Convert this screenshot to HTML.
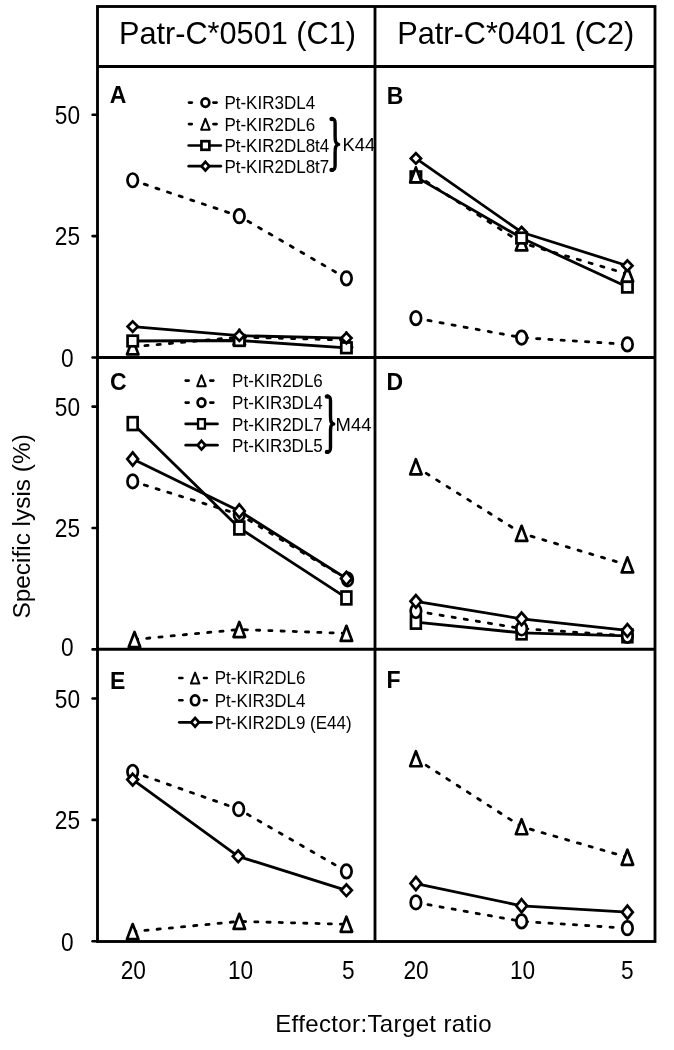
<!DOCTYPE html><html><head><meta charset="utf-8"><style>html,body{margin:0;padding:0;background:#fff;width:674px;height:1050px;overflow:hidden}</style></head><body><svg width="674" height="1050" viewBox="0 0 674 1050" style="display:block;will-change:transform">
<rect width="674" height="1050" fill="#fff"/>
<text x="237.5" y="44.3" font-family='"Liberation Sans", sans-serif' font-size="30.7" text-anchor="middle">Patr-C*0501 (C1)</text>
<text x="515.8" y="44.3" font-family='"Liberation Sans", sans-serif' font-size="30.7" text-anchor="middle">Patr-C*0401 (C2)</text>
<text transform="translate(109.7 103.1) scale(1 1.04)" font-family='"Liberation Sans", sans-serif' font-size="23" font-weight="bold">A</text>
<text transform="translate(386.7 103.5) scale(1 1.04)" font-family='"Liberation Sans", sans-serif' font-size="23" font-weight="bold">B</text>
<text transform="translate(110.0 389.6) scale(1 1.04)" font-family='"Liberation Sans", sans-serif' font-size="23" font-weight="bold">C</text>
<text transform="translate(386.5 390.4) scale(1 1.04)" font-family='"Liberation Sans", sans-serif' font-size="23" font-weight="bold">D</text>
<text transform="translate(109.9 688.8) scale(1 1.04)" font-family='"Liberation Sans", sans-serif' font-size="23" font-weight="bold">E</text>
<text transform="translate(386.5 688.2) scale(1 1.04)" font-family='"Liberation Sans", sans-serif' font-size="23" font-weight="bold">F</text>
<line x1="189.0" y1="102.6" x2="191.8" y2="102.6" stroke="#000" stroke-width="2.6" stroke-linecap="round"/>
<line x1="213.4" y1="102.6" x2="216.6" y2="102.6" stroke="#000" stroke-width="2.6" stroke-linecap="round"/>
<ellipse cx="205.40" cy="102.60" rx="3.90" ry="4.20" fill="#fff" stroke="#000" stroke-width="2.7"/>
<text transform="translate(224.4 109.3) scale(1 1.115)" font-family='"Liberation Sans", sans-serif' font-size="17">Pt-KIR3DL4</text>
<line x1="189.0" y1="124.1" x2="191.8" y2="124.1" stroke="#000" stroke-width="2.6" stroke-linecap="round"/>
<line x1="213.4" y1="124.1" x2="216.6" y2="124.1" stroke="#000" stroke-width="2.6" stroke-linecap="round"/>
<path d="M205.40 118.70L209.65 129.70L201.15 129.70Z" fill="#fff" stroke="#000" stroke-width="2.0" stroke-linejoin="round"/>
<text transform="translate(224.4 130.6) scale(1 1.115)" font-family='"Liberation Sans", sans-serif' font-size="17">Pt-KIR2DL6</text>
<line x1="188.7" y1="145.5" x2="220.8" y2="145.5" stroke="#000" stroke-width="2.7" stroke-linecap="round"/>
<rect x="201.45" y="141.20" width="7.90" height="8.60" fill="#fff" stroke="#000" stroke-width="2.7"/>
<text transform="translate(224.4 151.9) scale(1 1.115)" font-family='"Liberation Sans", sans-serif' font-size="17">Pt-KIR2DL8t4</text>
<line x1="188.7" y1="166.2" x2="220.8" y2="166.2" stroke="#000" stroke-width="2.7" stroke-linecap="round"/>
<path d="M205.40 161.85L209.30 166.20L205.40 170.55L201.50 166.20Z" fill="#fff" stroke="#000" stroke-width="2.7" stroke-linejoin="miter"/>
<text transform="translate(224.4 172.8) scale(1 1.115)" font-family='"Liberation Sans", sans-serif' font-size="17">Pt-KIR2DL8t7</text>
<line x1="185.7" y1="380.6" x2="188.7" y2="380.6" stroke="#000" stroke-width="2.6" stroke-linecap="round"/>
<line x1="210.3" y1="380.6" x2="213.3" y2="380.6" stroke="#000" stroke-width="2.6" stroke-linecap="round"/>
<path d="M201.50 375.20L205.75 386.20L197.25 386.20Z" fill="#fff" stroke="#000" stroke-width="2.0" stroke-linejoin="round"/>
<text transform="translate(232.1 387.1) scale(1 1.115)" font-family='"Liberation Sans", sans-serif' font-size="17">Pt-KIR2DL6</text>
<line x1="185.7" y1="402.6" x2="188.7" y2="402.6" stroke="#000" stroke-width="2.6" stroke-linecap="round"/>
<line x1="210.3" y1="402.6" x2="213.3" y2="402.6" stroke="#000" stroke-width="2.6" stroke-linecap="round"/>
<ellipse cx="201.50" cy="402.60" rx="3.90" ry="4.20" fill="#fff" stroke="#000" stroke-width="2.7"/>
<text transform="translate(232.1 409.1) scale(1 1.115)" font-family='"Liberation Sans", sans-serif' font-size="17">Pt-KIR3DL4</text>
<line x1="185.7" y1="423.9" x2="217.5" y2="423.9" stroke="#000" stroke-width="2.7" stroke-linecap="round"/>
<rect x="198.05" y="419.15" width="6.90" height="9.50" fill="#fff" stroke="#000" stroke-width="2.3"/>
<text transform="translate(232.1 430.5) scale(1 1.115)" font-family='"Liberation Sans", sans-serif' font-size="17">Pt-KIR2DL7</text>
<line x1="185.7" y1="445.2" x2="217.5" y2="445.2" stroke="#000" stroke-width="2.7" stroke-linecap="round"/>
<path d="M201.50 440.85L205.40 445.20L201.50 449.55L197.60 445.20Z" fill="#fff" stroke="#000" stroke-width="2.7" stroke-linejoin="miter"/>
<text transform="translate(232.1 451.8) scale(1 1.115)" font-family='"Liberation Sans", sans-serif' font-size="17">Pt-KIR3DL5</text>
<line x1="179.3" y1="678.0" x2="182.4" y2="678.0" stroke="#000" stroke-width="2.6" stroke-linecap="round"/>
<line x1="204.0" y1="678.0" x2="206.7" y2="678.0" stroke="#000" stroke-width="2.6" stroke-linecap="round"/>
<path d="M195.10 672.60L199.35 683.60L190.85 683.60Z" fill="#fff" stroke="#000" stroke-width="2.0" stroke-linejoin="round"/>
<text transform="translate(214.7 684.3) scale(1 1.115)" font-family='"Liberation Sans", sans-serif' font-size="17">Pt-KIR2DL6</text>
<line x1="179.3" y1="700.3" x2="182.4" y2="700.3" stroke="#000" stroke-width="2.6" stroke-linecap="round"/>
<line x1="204.0" y1="700.3" x2="206.7" y2="700.3" stroke="#000" stroke-width="2.6" stroke-linecap="round"/>
<ellipse cx="195.10" cy="700.30" rx="4.15" ry="4.95" fill="#fff" stroke="#000" stroke-width="2.7"/>
<text transform="translate(214.7 706.8) scale(1 1.115)" font-family='"Liberation Sans", sans-serif' font-size="17">Pt-KIR3DL4</text>
<line x1="179.3" y1="722.3" x2="211.4" y2="722.3" stroke="#000" stroke-width="2.7" stroke-linecap="round"/>
<path d="M195.10 717.95L199.00 722.30L195.10 726.65L191.20 722.30Z" fill="#fff" stroke="#000" stroke-width="2.7" stroke-linejoin="miter"/>
<text transform="translate(214.7 729.1) scale(1 1.115)" font-family='"Liberation Sans", sans-serif' font-size="17">Pt-KIR2DL9 (E44)</text>
<path d="M331.50 118.80 C334.30 118.80 335.10 120.00 335.10 123.30 L335.10 135.40 C335.10 140.90 335.40 143.80 338.60 144.40 C335.40 145.00 335.10 147.90 335.10 153.40 L335.10 165.60 C335.10 168.90 334.30 170.10 331.50 170.10" fill="none" stroke="#000" stroke-width="3.4" stroke-linejoin="round"/>
<ellipse cx="331.90" cy="119.00" rx="2.6" ry="2.2" fill="#000"/>
<ellipse cx="331.90" cy="169.90" rx="2.6" ry="2.2" fill="#000"/>
<text x="342.6" y="151" font-family='"Liberation Sans", sans-serif' font-size="18.4">K44</text>
<path d="M326.90 396.30 C329.70 396.30 330.50 397.50 330.50 400.80 L330.50 414.90 C330.50 420.40 330.50 423.30 333.70 423.90 C330.50 424.50 330.50 427.40 330.50 432.90 L330.50 447.60 C330.50 450.90 329.70 452.10 326.90 452.10" fill="none" stroke="#000" stroke-width="3.4" stroke-linejoin="round"/>
<ellipse cx="327.30" cy="396.50" rx="2.6" ry="2.2" fill="#000"/>
<ellipse cx="327.30" cy="451.90" rx="2.6" ry="2.2" fill="#000"/>
<text x="335.6" y="430.8" font-family='"Liberation Sans", sans-serif' font-size="18.4">M44</text>
<path d="M132.70 180.26L239.30 216.19L346.40 278.35" fill="none" stroke="#000" stroke-width="2.8" stroke-dasharray="3.2 9.05" stroke-linecap="round"/>
<path d="M132.70 346.82L239.30 337.10L346.40 340.02" fill="none" stroke="#000" stroke-width="2.8" stroke-dasharray="3.2 9.05" stroke-linecap="round"/>
<path d="M132.70 340.99L239.30 340.50L346.40 347.79" fill="none" stroke="#000" stroke-width="2.8" stroke-linejoin="round"/>
<path d="M132.70 326.62L239.30 335.65L346.40 338.08" fill="none" stroke="#000" stroke-width="2.8" stroke-linejoin="round"/>
<ellipse cx="132.70" cy="180.26" rx="5.25" ry="6.75" fill="#fff" stroke="#000" stroke-width="2.7"/>
<path d="M132.70 339.27L138.45 354.37L126.95 354.37Z" fill="#fff" stroke="#000" stroke-width="2.7" stroke-linejoin="round"/>
<rect x="127.55" y="335.69" width="10.30" height="10.60" fill="#fff" stroke="#000" stroke-width="2.7"/>
<path d="M132.70 321.42L137.80 326.62L132.70 331.82L127.60 326.62Z" fill="#fff" stroke="#000" stroke-width="2.7" stroke-linejoin="miter"/>
<ellipse cx="239.30" cy="216.19" rx="5.25" ry="6.75" fill="#fff" stroke="#000" stroke-width="2.7"/>
<path d="M239.30 329.55L245.05 344.65L233.55 344.65Z" fill="#fff" stroke="#000" stroke-width="2.7" stroke-linejoin="round"/>
<rect x="234.15" y="335.20" width="10.30" height="10.60" fill="#fff" stroke="#000" stroke-width="2.7"/>
<path d="M239.30 330.45L244.40 335.65L239.30 340.85L234.20 335.65Z" fill="#fff" stroke="#000" stroke-width="2.7" stroke-linejoin="miter"/>
<ellipse cx="346.40" cy="278.35" rx="5.25" ry="6.75" fill="#fff" stroke="#000" stroke-width="2.7"/>
<path d="M346.40 332.47L352.15 347.57L340.65 347.57Z" fill="#fff" stroke="#000" stroke-width="2.7" stroke-linejoin="round"/>
<rect x="341.25" y="342.49" width="10.30" height="10.60" fill="#fff" stroke="#000" stroke-width="2.7"/>
<path d="M346.40 332.88L351.50 338.08L346.40 343.28L341.30 338.08Z" fill="#fff" stroke="#000" stroke-width="2.7" stroke-linejoin="miter"/>
<path d="M415.90 318.17L521.60 337.59L627.40 344.39" fill="none" stroke="#000" stroke-width="2.8" stroke-dasharray="3.2 9.05" stroke-linecap="round"/>
<path d="M415.90 174.91L521.60 242.90L627.40 273.98" fill="none" stroke="#000" stroke-width="2.8" stroke-dasharray="3.2 9.05" stroke-linecap="round"/>
<path d="M415.90 176.86L521.60 238.04L627.40 287.09" fill="none" stroke="#000" stroke-width="2.8" stroke-linejoin="round"/>
<path d="M415.90 158.40L521.60 232.22L627.40 265.72" fill="none" stroke="#000" stroke-width="2.8" stroke-linejoin="round"/>
<ellipse cx="415.90" cy="318.17" rx="5.25" ry="6.75" fill="#fff" stroke="#000" stroke-width="2.7"/>
<path d="M415.90 153.20L421.00 158.40L415.90 163.60L410.80 158.40Z" fill="#fff" stroke="#000" stroke-width="2.7" stroke-linejoin="miter"/>
<rect x="410.75" y="171.56" width="10.30" height="10.60" fill="#fff" stroke="#000" stroke-width="2.7"/>
<path d="M415.90 167.36L421.65 182.46L410.15 182.46Z" fill="#fff" stroke="#000" stroke-width="2.7" stroke-linejoin="round"/>
<ellipse cx="521.60" cy="337.59" rx="5.25" ry="6.75" fill="#fff" stroke="#000" stroke-width="2.7"/>
<path d="M521.60 227.02L526.70 232.22L521.60 237.42L516.50 232.22Z" fill="#fff" stroke="#000" stroke-width="2.7" stroke-linejoin="miter"/>
<path d="M521.60 235.35L527.35 250.45L515.85 250.45Z" fill="#fff" stroke="#000" stroke-width="2.7" stroke-linejoin="round"/>
<rect x="516.45" y="232.74" width="10.30" height="10.60" fill="#fff" stroke="#000" stroke-width="2.7"/>
<ellipse cx="627.40" cy="344.39" rx="5.25" ry="6.75" fill="#fff" stroke="#000" stroke-width="2.7"/>
<rect x="622.25" y="281.79" width="10.30" height="10.60" fill="#fff" stroke="#000" stroke-width="2.7"/>
<path d="M627.40 266.43L633.15 281.53L621.65 281.53Z" fill="#fff" stroke="#000" stroke-width="2.7" stroke-linejoin="round"/>
<path d="M627.40 260.52L632.50 265.72L627.40 270.92L622.30 265.72Z" fill="#fff" stroke="#000" stroke-width="2.7" stroke-linejoin="miter"/>
<path d="M134.50 639.45L239.30 629.49L346.40 633.38" fill="none" stroke="#000" stroke-width="2.8" stroke-dasharray="3.2 9.05" stroke-linecap="round"/>
<path d="M132.70 481.38L239.30 514.40L347.60 579.47" fill="none" stroke="#000" stroke-width="2.8" stroke-dasharray="3.2 9.05" stroke-linecap="round"/>
<path d="M132.70 423.60L239.30 528.00L346.40 597.93" fill="none" stroke="#000" stroke-width="2.8" stroke-linejoin="round"/>
<path d="M132.70 459.04L239.30 511.00L346.40 578.50" fill="none" stroke="#000" stroke-width="2.8" stroke-linejoin="round"/>
<path d="M134.50 631.90L140.25 647.00L128.75 647.00Z" fill="#fff" stroke="#000" stroke-width="2.7" stroke-linejoin="round"/>
<ellipse cx="132.70" cy="481.38" rx="5.25" ry="6.75" fill="#fff" stroke="#000" stroke-width="2.7"/>
<rect x="127.80" y="417.20" width="9.80" height="12.80" fill="#fff" stroke="#000" stroke-width="2.7"/>
<path d="M132.70 452.44L138.10 459.04L132.70 465.64L127.30 459.04Z" fill="#fff" stroke="#000" stroke-width="2.7" stroke-linejoin="miter"/>
<path d="M239.30 621.94L245.05 637.04L233.55 637.04Z" fill="#fff" stroke="#000" stroke-width="2.7" stroke-linejoin="round"/>
<ellipse cx="239.30" cy="514.40" rx="5.25" ry="6.75" fill="#fff" stroke="#000" stroke-width="2.7"/>
<rect x="234.40" y="521.60" width="9.80" height="12.80" fill="#fff" stroke="#000" stroke-width="2.7"/>
<path d="M239.30 504.40L244.70 511.00L239.30 517.60L233.90 511.00Z" fill="#fff" stroke="#000" stroke-width="2.7" stroke-linejoin="miter"/>
<path d="M346.40 625.83L352.15 640.93L340.65 640.93Z" fill="#fff" stroke="#000" stroke-width="2.7" stroke-linejoin="round"/>
<ellipse cx="347.60" cy="579.47" rx="5.25" ry="6.75" fill="#fff" stroke="#000" stroke-width="2.7"/>
<rect x="341.50" y="591.53" width="9.80" height="12.80" fill="#fff" stroke="#000" stroke-width="2.7"/>
<path d="M346.40 571.90L351.80 578.50L346.40 585.10L341.00 578.50Z" fill="#fff" stroke="#000" stroke-width="2.7" stroke-linejoin="miter"/>
<path d="M415.90 466.81L521.60 533.34L627.40 564.91" fill="none" stroke="#000" stroke-width="2.8" stroke-dasharray="3.2 9.05" stroke-linecap="round"/>
<path d="M415.90 611.04L521.60 628.52L627.40 635.80" fill="none" stroke="#000" stroke-width="2.8" stroke-dasharray="3.2 9.05" stroke-linecap="round"/>
<path d="M415.90 622.21L521.60 632.89L627.40 635.80" fill="none" stroke="#000" stroke-width="2.8" stroke-linejoin="round"/>
<path d="M415.90 601.33L521.60 618.81L627.40 630.46" fill="none" stroke="#000" stroke-width="2.8" stroke-linejoin="round"/>
<path d="M415.90 459.26L421.65 474.36L410.15 474.36Z" fill="#fff" stroke="#000" stroke-width="2.7" stroke-linejoin="round"/>
<rect x="411.00" y="615.81" width="9.80" height="12.80" fill="#fff" stroke="#000" stroke-width="2.7"/>
<ellipse cx="415.90" cy="611.04" rx="5.25" ry="6.75" fill="#fff" stroke="#000" stroke-width="2.7"/>
<path d="M415.90 595.03L421.30 601.33L415.90 607.63L410.50 601.33Z" fill="#fff" stroke="#000" stroke-width="2.7" stroke-linejoin="miter"/>
<path d="M521.60 525.79L527.35 540.89L515.85 540.89Z" fill="#fff" stroke="#000" stroke-width="2.7" stroke-linejoin="round"/>
<rect x="516.70" y="626.49" width="9.80" height="12.80" fill="#fff" stroke="#000" stroke-width="2.7"/>
<ellipse cx="521.60" cy="628.52" rx="5.25" ry="6.75" fill="#fff" stroke="#000" stroke-width="2.7"/>
<path d="M521.60 612.51L527.00 618.81L521.60 625.11L516.20 618.81Z" fill="#fff" stroke="#000" stroke-width="2.7" stroke-linejoin="miter"/>
<path d="M627.40 557.36L633.15 572.46L621.65 572.46Z" fill="#fff" stroke="#000" stroke-width="2.7" stroke-linejoin="round"/>
<rect x="622.50" y="629.40" width="9.80" height="12.80" fill="#fff" stroke="#000" stroke-width="2.7"/>
<ellipse cx="627.40" cy="635.80" rx="5.25" ry="6.75" fill="#fff" stroke="#000" stroke-width="2.7"/>
<path d="M627.40 624.16L632.80 630.46L627.40 636.76L622.00 630.46Z" fill="#fff" stroke="#000" stroke-width="2.7" stroke-linejoin="miter"/>
<path d="M132.70 931.59L239.30 921.39L346.40 924.30" fill="none" stroke="#000" stroke-width="2.8" stroke-dasharray="3.2 9.05" stroke-linecap="round"/>
<path d="M132.70 771.83L238.70 809.22L346.40 871.37" fill="none" stroke="#000" stroke-width="2.8" stroke-dasharray="3.2 9.05" stroke-linecap="round"/>
<path d="M132.70 779.60L238.20 856.32L346.40 890.31" fill="none" stroke="#000" stroke-width="2.8" stroke-linejoin="round"/>
<path d="M132.70 924.04L138.45 939.14L126.95 939.14Z" fill="#fff" stroke="#000" stroke-width="2.7" stroke-linejoin="round"/>
<ellipse cx="132.70" cy="771.83" rx="5.25" ry="6.75" fill="#fff" stroke="#000" stroke-width="2.7"/>
<path d="M132.70 773.80L138.10 779.60L132.70 785.40L127.30 779.60Z" fill="#fff" stroke="#000" stroke-width="2.7" stroke-linejoin="miter"/>
<path d="M239.30 913.84L245.05 928.94L233.55 928.94Z" fill="#fff" stroke="#000" stroke-width="2.7" stroke-linejoin="round"/>
<ellipse cx="238.70" cy="809.22" rx="5.25" ry="6.75" fill="#fff" stroke="#000" stroke-width="2.7"/>
<path d="M238.20 850.52L243.60 856.32L238.20 862.12L232.80 856.32Z" fill="#fff" stroke="#000" stroke-width="2.7" stroke-linejoin="miter"/>
<path d="M346.40 916.75L352.15 931.85L340.65 931.85Z" fill="#fff" stroke="#000" stroke-width="2.7" stroke-linejoin="round"/>
<ellipse cx="346.40" cy="871.37" rx="5.25" ry="6.75" fill="#fff" stroke="#000" stroke-width="2.7"/>
<path d="M346.40 884.51L351.80 890.31L346.40 896.11L341.00 890.31Z" fill="#fff" stroke="#000" stroke-width="2.7" stroke-linejoin="miter"/>
<path d="M415.90 758.71L521.60 826.70L627.40 857.29" fill="none" stroke="#000" stroke-width="2.8" stroke-dasharray="3.2 9.05" stroke-linecap="round"/>
<path d="M415.90 902.45L521.60 921.39L627.40 928.19" fill="none" stroke="#000" stroke-width="2.8" stroke-dasharray="3.2 9.05" stroke-linecap="round"/>
<path d="M415.90 883.51L521.60 905.85L627.40 912.16" fill="none" stroke="#000" stroke-width="2.8" stroke-linejoin="round"/>
<path d="M415.90 751.16L421.65 766.26L410.15 766.26Z" fill="#fff" stroke="#000" stroke-width="2.7" stroke-linejoin="round"/>
<ellipse cx="415.90" cy="902.45" rx="5.25" ry="6.75" fill="#fff" stroke="#000" stroke-width="2.7"/>
<path d="M415.90 876.91L421.30 883.51L415.90 890.11L410.50 883.51Z" fill="#fff" stroke="#000" stroke-width="2.7" stroke-linejoin="miter"/>
<path d="M521.60 819.15L527.35 834.25L515.85 834.25Z" fill="#fff" stroke="#000" stroke-width="2.7" stroke-linejoin="round"/>
<ellipse cx="521.60" cy="921.39" rx="5.25" ry="6.75" fill="#fff" stroke="#000" stroke-width="2.7"/>
<path d="M521.60 899.25L527.00 905.85L521.60 912.45L516.20 905.85Z" fill="#fff" stroke="#000" stroke-width="2.7" stroke-linejoin="miter"/>
<path d="M627.40 849.74L633.15 864.84L621.65 864.84Z" fill="#fff" stroke="#000" stroke-width="2.7" stroke-linejoin="round"/>
<ellipse cx="627.40" cy="928.19" rx="5.25" ry="6.75" fill="#fff" stroke="#000" stroke-width="2.7"/>
<path d="M627.40 905.56L632.80 912.16L627.40 918.76L622.00 912.16Z" fill="#fff" stroke="#000" stroke-width="2.7" stroke-linejoin="miter"/>
<rect x="97.5" y="6.5" width="557.5" height="935" fill="none" stroke="#000" stroke-width="2.85"/>
<line x1="375" y1="6.5" x2="375" y2="941.5" stroke="#000" stroke-width="2.85"/>
<line x1="97.5" y1="66.5" x2="655" y2="66.5" stroke="#000" stroke-width="2.85"/>
<line x1="97.5" y1="357.5" x2="655" y2="357.5" stroke="#000" stroke-width="2.85"/>
<line x1="97.5" y1="649.2" x2="655" y2="649.2" stroke="#000" stroke-width="2.85"/>
<line x1="92.6" y1="357.50" x2="97.5" y2="357.50" stroke="#000" stroke-width="2.6" stroke-linecap="round"/>
<text transform="translate(67.40 366.76) scale(1.0 1.14)" font-family='"Liberation Sans", sans-serif' font-size="22.7" text-anchor="middle">0</text>
<line x1="92.6" y1="236.10" x2="97.5" y2="236.10" stroke="#000" stroke-width="2.6" stroke-linecap="round"/>
<text transform="translate(67.40 245.36) scale(1.0 1.14)" font-family='"Liberation Sans", sans-serif' font-size="22.7" text-anchor="middle">25</text>
<line x1="92.6" y1="114.70" x2="97.5" y2="114.70" stroke="#000" stroke-width="2.6" stroke-linecap="round"/>
<text transform="translate(67.40 123.96) scale(1.0 1.14)" font-family='"Liberation Sans", sans-serif' font-size="22.7" text-anchor="middle">50</text>
<line x1="92.6" y1="649.40" x2="97.5" y2="649.40" stroke="#000" stroke-width="2.6" stroke-linecap="round"/>
<text transform="translate(67.40 656.46) scale(1.0 1.14)" font-family='"Liberation Sans", sans-serif' font-size="22.7" text-anchor="middle">0</text>
<line x1="92.6" y1="528.00" x2="97.5" y2="528.00" stroke="#000" stroke-width="2.6" stroke-linecap="round"/>
<text transform="translate(67.40 537.26) scale(1.0 1.14)" font-family='"Liberation Sans", sans-serif' font-size="22.7" text-anchor="middle">25</text>
<line x1="92.6" y1="406.60" x2="97.5" y2="406.60" stroke="#000" stroke-width="2.6" stroke-linecap="round"/>
<text transform="translate(67.40 415.86) scale(1.0 1.14)" font-family='"Liberation Sans", sans-serif' font-size="22.7" text-anchor="middle">50</text>
<line x1="92.6" y1="941.30" x2="97.5" y2="941.30" stroke="#000" stroke-width="2.6" stroke-linecap="round"/>
<text transform="translate(67.40 950.56) scale(1.0 1.14)" font-family='"Liberation Sans", sans-serif' font-size="22.7" text-anchor="middle">0</text>
<line x1="92.6" y1="819.90" x2="97.5" y2="819.90" stroke="#000" stroke-width="2.6" stroke-linecap="round"/>
<text transform="translate(67.40 829.16) scale(1.0 1.14)" font-family='"Liberation Sans", sans-serif' font-size="22.7" text-anchor="middle">25</text>
<line x1="92.6" y1="698.50" x2="97.5" y2="698.50" stroke="#000" stroke-width="2.6" stroke-linecap="round"/>
<text transform="translate(67.40 707.76) scale(1.0 1.14)" font-family='"Liberation Sans", sans-serif' font-size="22.7" text-anchor="middle">50</text>
<text transform="translate(133.35 979.06) scale(1.0 1.14)" font-family='"Liberation Sans", sans-serif' font-size="22.7" text-anchor="middle">20</text>
<text transform="translate(240.50 979.06) scale(1.0 1.14)" font-family='"Liberation Sans", sans-serif' font-size="22.7" text-anchor="middle">10</text>
<text transform="translate(348.20 979.06) scale(1.0 1.14)" font-family='"Liberation Sans", sans-serif' font-size="22.7" text-anchor="middle">5</text>
<text transform="translate(416.00 979.06) scale(1.0 1.14)" font-family='"Liberation Sans", sans-serif' font-size="22.7" text-anchor="middle">20</text>
<text transform="translate(522.50 979.06) scale(1.0 1.14)" font-family='"Liberation Sans", sans-serif' font-size="22.7" text-anchor="middle">10</text>
<text transform="translate(627.20 979.06) scale(1.0 1.14)" font-family='"Liberation Sans", sans-serif' font-size="22.7" text-anchor="middle">5</text>
<text x="383.6" y="1032.4" font-family='"Liberation Sans", sans-serif' font-size="24" letter-spacing="0.37" text-anchor="middle">Effector:Target ratio</text>
<text transform="translate(30.2 526.4) rotate(-90)" x="0" y="0" font-family='"Liberation Sans", sans-serif' font-size="24.4" text-anchor="middle">Specific lysis (%)</text>
</svg></body></html>
